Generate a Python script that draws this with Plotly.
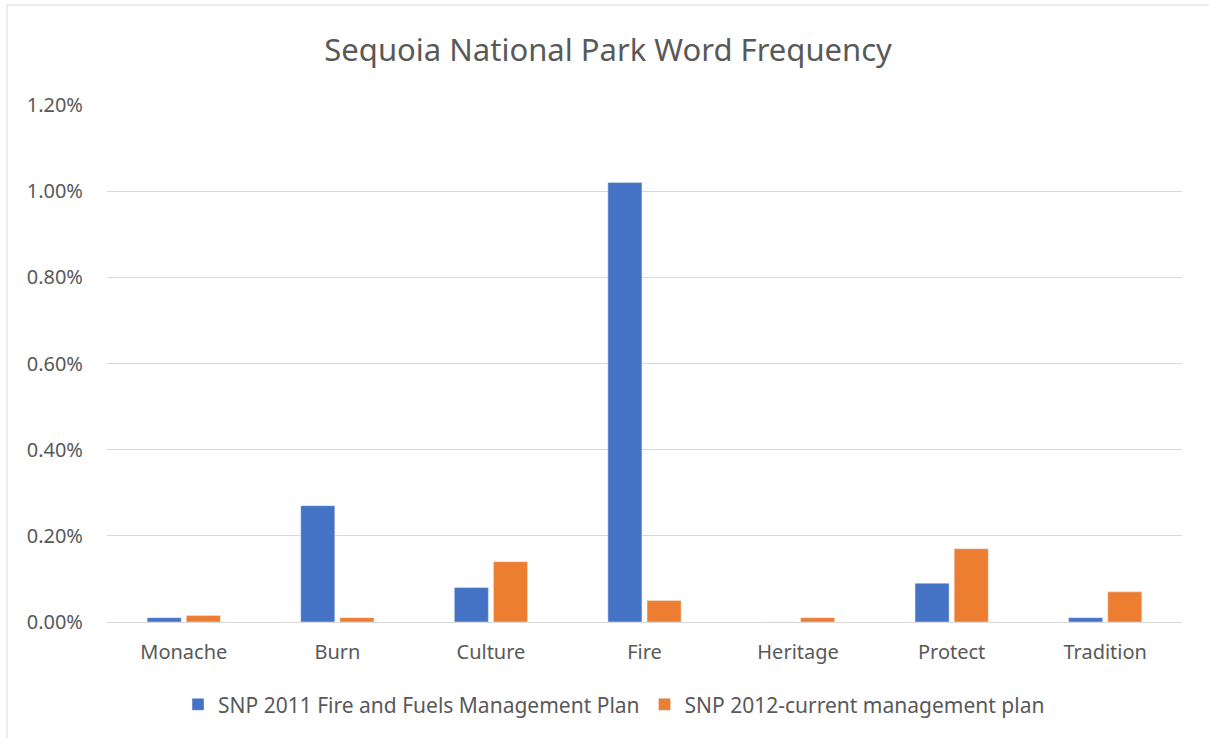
import plotly.graph_objects as go

categories = ["Monache", "Burn", "Culture", "Fire", "Heritage", "Protect", "Tradition"]
series_2011 = [0.0001, 0.0027, 0.0008, 0.0102, 0.0, 0.0009, 0.0001]
series_2012 = [0.00015, 0.0001, 0.0014, 0.0005, 0.0001, 0.0017, 0.0007]
name_2011 = "SNP 2011 Fire and Fuels Management Plan"
name_2012 = "SNP 2012-current management plan"
tick_vals = [0, 0.002, 0.004, 0.006, 0.008, 0.010, 0.012]
tick_text = ["0.00%", "0.20%", "0.40%", "0.60%", "0.80%", "1.00%", "1.20%"]

font_family = "Noto Sans, Open Sans, sans-serif"
grey = "#595959"

fig = go.Figure()
fig.add_trace(go.Bar(x=categories, y=series_2011, name=name_2011,
                     marker=dict(color="#4472C4")))
fig.add_trace(go.Bar(x=categories, y=series_2012, name=name_2012,
                     marker=dict(color="#ED7D31")))

L, R = 107, 27
PW = 1209 - L - R
fig.update_layout(
    width=1209, height=738,
    margin=dict(l=L, r=R, t=105, b=116, autoexpand=False),
    paper_bgcolor="white", plot_bgcolor="white",
    barmode="group", bargap=0.49, bargroupgap=0.13,
    title=dict(text="Sequoia National Park Word Frequency", x=0.503, xanchor="center",
               y=1 - 50 / 738, yanchor="middle",
               font=dict(family=font_family, size=31, color=grey)),
    font=dict(family=font_family, size=20, color=grey),
    showlegend=True,
    legend=dict(orientation="h", x=(614 - L) / PW, xanchor="center",
                y=-0.16, yanchor="middle",
                font=dict(family=font_family, size=21, color=grey),
                itemwidth=30, traceorder="normal"),
    xaxis=dict(showgrid=False, showline=True, linecolor="#D9D9D9", linewidth=1,
               ticks="", ticklabelstandoff=12, tickfont=dict(size=20, color=grey)),
    yaxis=dict(range=[0, 0.012], tickvals=tick_vals, ticktext=tick_text,
               showgrid=True, gridcolor="#D9D9D9", gridwidth=1,
               zeroline=True, zerolinecolor="#D9D9D9", zerolinewidth=1,
               showline=False, ticks="", ticklabelstandoff=23,
               tickfont=dict(size=20, color=grey)),
    shapes=[dict(type="rect", xref="paper", yref="paper",
                 x0=(7 - L) / PW, x1=(1230 - L) / PW,
                 y0=(622 - 760) / 517, y1=(622 - 5) / 517,
                 line=dict(color="#D9D9D9", width=1), layer="below")],
)

fig.write_html("out.html")
